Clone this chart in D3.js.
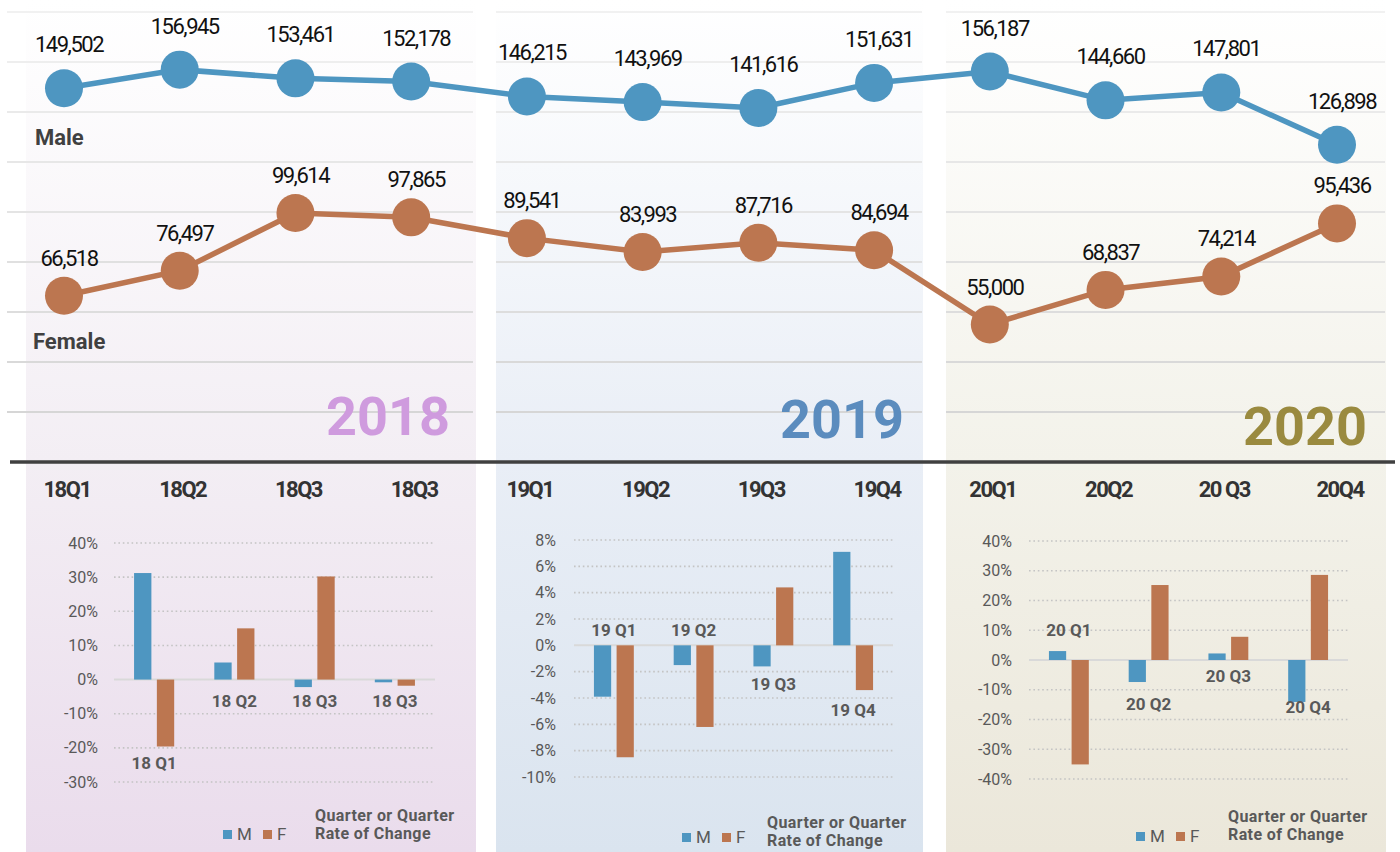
<!DOCTYPE html>
<html>
<head>
<meta charset="utf-8">
<script src="https://cdn.jsdelivr.net/npm/d3@7"></script>
<style>
  body { margin: 0; background: #fff; }
  svg { display: block; font-family: Roboto, "Noto Sans", sans-serif; }
</style>
</head>
<body>
<div id="chart"></div>
<script>
// quarterly counts (top line chart)
var quarterLabels = ["18Q1", "18Q2", "18Q3", "18Q3", "19Q1", "19Q2", "19Q3", "19Q4", "20Q1", "20Q2", "20 Q3", "20Q4"];
var maleCounts = [149502, 156945, 153461, 152178, 146215, 143969, 141616, 151631, 156187, 144660, 147801, 126898];
var femaleCounts = [66518, 76497, 99614, 97865, 89541, 83993, 87716, 84694, 55000, 68837, 74214, 95436];
var countTicks = [0, 20000, 40000, 60000, 80000, 100000, 120000, 140000, 160000, 180000];
var years = ["2018", "2019", "2020"];

// quarter-on-quarter rate of change (%) per year
var barCats2018 = ["18 Q1", "18 Q2", "18 Q3", "18 Q3"];
var maleRate2018 = [31.2, 5.0, -2.2, -0.8];
var femaleRate2018 = [-19.6, 15.0, 30.2, -1.8];
var labelAt2018 = [-26.1, -7.9, -7.9, -7.9];
var ticks2018 = [-30, -20, -10, 0, 10, 20, 30, 40];

var barCats2019 = ["19 Q1", "19 Q2", "19 Q3", "19 Q4"];
var maleRate2019 = [-3.9, -1.5, -1.6, 7.1];
var femaleRate2019 = [-8.5, -6.2, 4.4, -3.4];
var labelAt2019 = [0.7, 0.7, -3.4, -5.4];
var ticks2019 = [-10, -8, -6, -4, -2, 0, 2, 4, 6, 8];

var barCats2020 = ["20 Q1", "20 Q2", "20 Q3", "20 Q4"];
var maleRate2020 = [3.0, -7.4, 2.2, -14.1];
var femaleRate2020 = [-35.1, 25.2, 7.8, 28.6];
var labelAt2020 = [8.1, -16.8, -7.4, -17.8];
var ticks2020 = [-40, -30, -20, -10, 0, 10, 20, 30, 40];

var blue = "#4e96c1", orange = "#bc7650";
var width = 1400, height = 852;

// layout of the three year panels
var panels = [
  { year: years[0], x0: 26, x1: 476, gx0: 7, gx1: 473, yearColor: "#cf9bde", yearX: 450, yearBase: 435,
    stops: ["#ffffff", "#f3eef4", "#eadcec"],
    cats: barCats2018, m: maleRate2018, f: femaleRate2018, lab: labelAt2018, ticks: ticks2018,
    px0: 114, px1: 435, py: [782, 543], tickX: 98, legX: 223, legY: 830, titleX: 315, titleY: 822 },
  { year: years[1], x0: 496, x1: 923, gx0: 496, gx1: 922, yearColor: "#5b8cbe", yearX: 904, yearBase: 438,
    stops: ["#ffffff", "#e9eef6", "#dae4ef"],
    cats: barCats2019, m: maleRate2019, f: femaleRate2019, lab: labelAt2019, ticks: ticks2019,
    px0: 574, px1: 893, py: [777, 540], tickX: 556, legX: 682, legY: 833, titleX: 767, titleY: 829 },
  { year: years[2], x0: 946, x1: 1386, gx0: 946, gx1: 1385, yearColor: "#9a8a3f", yearX: 1367, yearBase: 445,
    stops: ["#ffffff", "#f3f2ea", "#ebe7da"],
    cats: barCats2020, m: maleRate2020, f: femaleRate2020, lab: labelAt2020, ticks: ticks2020,
    px0: 1029, px1: 1348, py: [779, 541], tickX: 1012, legX: 1136, legY: 832, titleX: 1228, titleY: 823 }
];

var svg = d3.select("#chart").append("svg")
  .attr("width", width)
  .attr("height", height);

var defs = svg.append("defs");

// panel backgrounds
panels.forEach(function(p, i) {
  var g = defs.append("linearGradient")
    .attr("id", "bg" + i)
    .attr("x1", 0).attr("x2", 0).attr("y1", 0).attr("y2", 1);
  g.append("stop").attr("offset", 0).attr("stop-color", p.stops[0]);
  g.append("stop").attr("offset", 0.54).attr("stop-color", p.stops[1]);
  g.append("stop").attr("offset", 1).attr("stop-color", p.stops[2]);

  svg.append("rect")
    .attr("x", p.x0).attr("y", 0)
    .attr("width", p.x1 - p.x0).attr("height", height)
    .attr("fill", "url(#bg" + i + ")");
});

// top line chart scales
var x = d3.scaleLinear()
  .domain([0, quarterLabels.length - 1])
  .range([64, 1337]);

var y = d3.scaleLinear()
  .domain([0, 180000])
  .range([462, 12]);

var gridColor = d3.scaleLinear()
  .domain([20000, 180000])
  .range(["#d6d6d6", "#f1f1f1"]);

// horizontal grid, drawn per panel
panels.forEach(function(p) {
  svg.append("g")
    .selectAll("line")
    .data(countTicks.filter(function(d) { return d > 0; }))
    .enter()
    .append("line")
    .attr("x1", p.gx0).attr("x2", p.gx1)
    .attr("y1", d => y(d)).attr("y2", d => y(d))
    .attr("stroke", d => gridColor(d))
    .attr("stroke-width", 2);
});

// year labels
svg.selectAll(".year")
  .data(panels)
  .enter()
  .append("text")
  .attr("class", "year")
  .attr("x", d => d.yearX)
  .attr("y", d => d.yearBase)
  .attr("text-anchor", "end")
  .style("font-size", "54px")
  .style("font-weight", "bold")
  .style("fill", d => d.yearColor)
  .text(d => d.year);

// baseline axis
svg.append("line")
  .attr("x1", 10).attr("x2", 1395)
  .attr("y1", y(0)).attr("y2", y(0))
  .attr("stroke", "#404040")
  .attr("stroke-width", 3.5);

var line = d3.line()
  .x((d, i) => x(i))
  .y(d => y(d));

var series = [
  { name: "Male", values: maleCounts, color: blue, labelDy: -36, nameX: 35, nameY: 145 },
  { name: "Female", values: femaleCounts, color: orange, labelDy: -30, nameX: 33, nameY: 349 }
];

series.forEach(function(s) {
  svg.append("path")
    .datum(s.values)
    .attr("fill", "none")
    .attr("stroke", s.color)
    .attr("stroke-width", 5.5)
    .attr("d", line);

  svg.append("g")
    .selectAll("circle")
    .data(s.values)
    .enter()
    .append("circle")
    .attr("cx", (d, i) => x(i))
    .attr("cy", d => y(d))
    .attr("r", 19)
    .attr("fill", s.color);

  svg.append("g")
    .selectAll("text")
    .data(s.values)
    .enter()
    .append("text")
    .attr("x", (d, i) => x(i) + 5)
    .attr("y", d => y(d) + s.labelDy)
    .attr("text-anchor", "middle")
    .style("font-size", "22px")
    .style("letter-spacing", "-1.5px")
    .style("fill", "#111")
    .text(d => d3.format(",")(d));

  svg.append("text")
    .attr("x", s.nameX)
    .attr("y", s.nameY)
    .style("font-size", "22px")
    .style("font-weight", "bold")
    .style("fill", "#404040")
    .text(s.name);
});

// quarter labels under the axis
svg.append("g")
  .selectAll("text")
  .data(quarterLabels)
  .enter()
  .append("text")
  .attr("x", (d, i) => x(i) + 3)
  .attr("y", 497)
  .attr("text-anchor", "middle")
  .style("font-size", "22px")
  .style("font-weight", "bold")
  .style("letter-spacing", "-1.5px")
  .style("fill", "#333")
  .text(d => d);

// rate of change bar charts
panels.forEach(function(p) {
  var g = svg.append("g");
  var idx = d3.range(p.cats.length);

  var x0 = d3.scaleBand()
    .domain(idx)
    .range([p.px0, p.px1])
    .paddingInner(0.5)
    .paddingOuter(0.25);

  var x1 = d3.scaleBand()
    .domain(["M", "F"])
    .range([0, x0.bandwidth()])
    .paddingInner(0.24);

  var yb = d3.scaleLinear()
    .domain(d3.extent(p.ticks))
    .range(p.py);

  // dotted grid
  g.selectAll(".grid")
    .data(p.ticks.filter(d => d !== 0))
    .enter()
    .append("line")
    .attr("x1", p.px0).attr("x2", p.px1)
    .attr("y1", d => yb(d)).attr("y2", d => yb(d))
    .attr("stroke", "#c4c4c4")
    .attr("stroke-width", 1.6)
    .attr("stroke-dasharray", "1.6 2.8");

  g.append("line")
    .attr("x1", p.px0).attr("x2", p.px1)
    .attr("y1", yb(0)).attr("y2", yb(0))
    .attr("stroke", "#d9d9d9")
    .attr("stroke-width", 2);

  g.selectAll(".tick")
    .data(p.ticks)
    .enter()
    .append("text")
    .attr("x", p.tickX)
    .attr("y", d => yb(d) + 5.5)
    .attr("text-anchor", "end")
    .style("font-size", "16px")
    .style("fill", "#595959")
    .text(d => d + "%");

  var rows = idx.map(i => ({ i: i, M: p.m[i], F: p.f[i] }));

  g.selectAll(".bar")
    .data(rows.flatMap(r => [{ i: r.i, key: "M", v: r.M }, { i: r.i, key: "F", v: r.F }]))
    .enter()
    .append("rect")
    .attr("x", d => x0(d.i) + x1(d.key))
    .attr("width", x1.bandwidth())
    .attr("y", d => yb(Math.max(0, d.v)))
    .attr("height", d => Math.abs(yb(d.v) - yb(0)))
    .attr("fill", d => d.key === "M" ? blue : orange);

  g.selectAll(".cat")
    .data(idx)
    .enter()
    .append("text")
    .attr("x", i => x0(i) + x0.bandwidth() / 2)
    .attr("y", i => yb(p.lab[i]))
    .attr("text-anchor", "middle")
    .style("font-size", "17px")
    .style("font-weight", "bold")
    .style("fill", "#595959")
    .text(i => p.cats[i]);

  // legend
  var leg = [{ k: "M", c: blue, dx: 0 }, { k: "F", c: orange, dx: 40 }];
  leg.forEach(function(l) {
    g.append("rect")
      .attr("x", p.legX + l.dx).attr("y", p.legY)
      .attr("width", 9).attr("height", 9)
      .attr("fill", l.c);
    g.append("text")
      .attr("x", p.legX + l.dx + 14)
      .attr("y", p.legY + 10)
      .style("font-size", "17px")
      .style("fill", "#595959")
      .text(l.k);
  });

  g.append("text")
    .attr("x", p.titleX)
    .attr("y", p.titleY - 1)
    .style("font-size", "16px")
    .style("letter-spacing", "0.4px")
    .style("font-weight", "bold")
    .style("fill", "#595959")
    .text("Quarter or Quarter");
  g.append("text")
    .attr("x", p.titleX)
    .attr("y", p.titleY + 17)
    .style("font-size", "16px")
    .style("letter-spacing", "0.4px")
    .style("font-weight", "bold")
    .style("fill", "#595959")
    .text("Rate of Change");
});
</script>
</body>
</html>
